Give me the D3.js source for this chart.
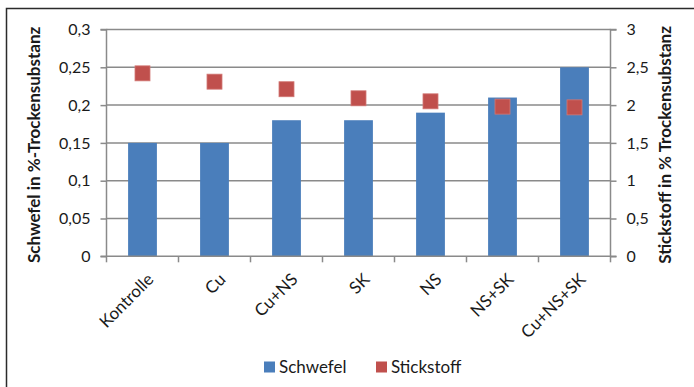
<!DOCTYPE html>
<html>
<head>
<meta charset="utf-8">
<script src="https://cdn.jsdelivr.net/npm/d3@7"></script>
<style>
  html, body { margin: 0; padding: 0; background: #fff; }
  svg text { font-family: Lato, "Open Sans", sans-serif; fill: #1a1a1a; }
</style>
</head>
<body>
<svg id="chart" width="694" height="387"></svg>
<script>
// Treatments on the x axis
const categories = ["Kontrolle", "Cu", "Cu+NS", "SK", "NS", "NS+SK", "Cu+NS+SK"];
// Sulphur content (left axis, % dry matter)
const schwefel = [0.15, 0.15, 0.18, 0.18, 0.19, 0.21, 0.25];
// Nitrogen content (right axis, % dry matter)
const stickstoff = [2.42, 2.31, 2.21, 2.09, 2.05, 1.98, 1.97];
// Axis ticks
const leftTicks = [0, 0.05, 0.1, 0.15, 0.2, 0.25, 0.3];
const rightTicks = [0, 0.5, 1, 1.5, 2, 2.5, 3];
const seriesNames = ["Schwefel", "Stickstoff"];
const colors = ["#4a7ebb", "#c0504d"];

const svg = d3.select("#chart");
const W = 694, H = 387;
const m = { left: 106.5, right: 694 - 610.5, top: 29.5, bottom: 387 - 256.3 };
const iw = W - m.left - m.right, ih = H - m.top - m.bottom;

const fmt = v => String(v).replace(".", ",");

// outer frame (top and left edges visible)
svg.append("path")
  .attr("d", `M6.5,${H} V8.5 H${W}`)
  .attr("fill", "none").attr("stroke", "#2b2b2b").attr("stroke-width", 1.5);

const g = svg.append("g").attr("transform", `translate(${m.left},${m.top})`);

const x = d3.scaleBand().domain(categories).range([0, iw]).padding(0);
const yL = d3.scaleLinear().domain([0, 0.3]).range([ih, 0]);
const yR = d3.scaleLinear().domain([0, 3]).range([ih, 0]);

const gridColor = "#8a8a8a";

// horizontal gridlines
g.append("g").selectAll("line").data(leftTicks.filter(d => d > 0)).join("line")
  .attr("x1", 0).attr("x2", iw)
  .attr("y1", d => yL(d)).attr("y2", d => yL(d))
  .attr("stroke", gridColor).attr("stroke-width", 1.5);

// left axis
const axL = g.append("g").call(d3.axisLeft(yL).tickValues(leftTicks).tickFormat(fmt).tickSize(6).tickPadding(10));
axL.select(".domain").attr("stroke", gridColor).attr("stroke-width", 1.5).attr("d", `M-6,${ih}H0V0H-6`);
axL.selectAll(".tick line").attr("stroke", gridColor).attr("stroke-width", 1.5);
axL.selectAll(".tick text").attr("font-size", 16).style("font-family", "Lato, sans-serif").attr("fill", "#1a1a1a");

// right axis
const axR = g.append("g").attr("transform", `translate(${iw},0)`)
  .call(d3.axisRight(yR).tickValues(rightTicks).tickFormat(fmt).tickSize(6).tickPadding(10));
axR.select(".domain").attr("stroke", gridColor).attr("stroke-width", 1.5).attr("d", `M6,${ih}H0V0H6`);
axR.selectAll(".tick line").attr("stroke", gridColor).attr("stroke-width", 1.5);
axR.selectAll(".tick text").attr("font-size", 16).style("font-family", "Lato, sans-serif").attr("fill", "#1a1a1a");

// bars
const bw = x.bandwidth() * 0.4;
g.append("g").selectAll("rect").data(schwefel).join("rect")
  .attr("x", (d, i) => x(categories[i]) + (x.bandwidth() - bw) / 2)
  .attr("width", bw)
  .attr("y", d => yL(d))
  .attr("height", d => ih - yL(d))
  .attr("fill", colors[0]);

// bottom axis with category boundary ticks
const axB = g.append("g").attr("transform", `translate(0,${ih})`);
axB.append("line").attr("x1", 0).attr("x2", iw).attr("y1", 0).attr("y2", 0)
  .attr("stroke", gridColor).attr("stroke-width", 1.5);
axB.selectAll(".bt").data(d3.range(categories.length + 1)).join("line")
  .attr("class", "bt")
  .attr("x1", i => i * x.step()).attr("x2", i => i * x.step())
  .attr("y1", 0).attr("y2", 6)
  .attr("stroke", gridColor).attr("stroke-width", 1.5);
axB.selectAll("text").data(categories).join("text")
  .attr("transform", d => `translate(${x(d) + x.bandwidth() / 2 + 8},${20}) rotate(-45)`)
  .attr("text-anchor", "end")
  .attr("dy", "0.35em")
  .attr("font-size", 17)
  .text(d => d);

// nitrogen markers
const sq = 15;
g.append("g").selectAll("rect").data(stickstoff).join("rect")
  .attr("x", (d, i) => x(categories[i]) + x.bandwidth() / 2 - sq / 2)
  .attr("y", d => yR(d) - sq / 2)
  .attr("width", sq).attr("height", sq)
  .attr("fill", colors[1])
  .attr("stroke", "#d27875").attr("stroke-width", 0.8);

// axis titles
svg.append("text")
  .attr("transform", `translate(40,${m.top + ih / 2 + 2}) rotate(-90)`)
  .attr("text-anchor", "middle")
  .attr("font-size", 17).attr("font-weight", 700)
  .text("Schwefel in %-Trockensubstanz");
svg.append("text")
  .attr("transform", `translate(671,${m.top + ih / 2 + 2}) rotate(-90)`)
  .attr("text-anchor", "middle")
  .attr("font-size", 17).attr("font-weight", 700)
  .text("Stickstoff in % Trockensubstanz");

// legend
const leg = svg.append("g").attr("transform", "translate(264,367)");
const items = leg.selectAll("g").data(seriesNames).join("g")
  .attr("transform", (d, i) => `translate(${i * 112},0)`);
items.append("rect").attr("x", 0).attr("y", -5.5).attr("width", 11).attr("height", 11)
  .attr("fill", (d, i) => colors[i]);
items.append("text").attr("x", 15).attr("dy", "0.35em").attr("font-size", 17).text(d => d);
</script>
</body>
</html>
